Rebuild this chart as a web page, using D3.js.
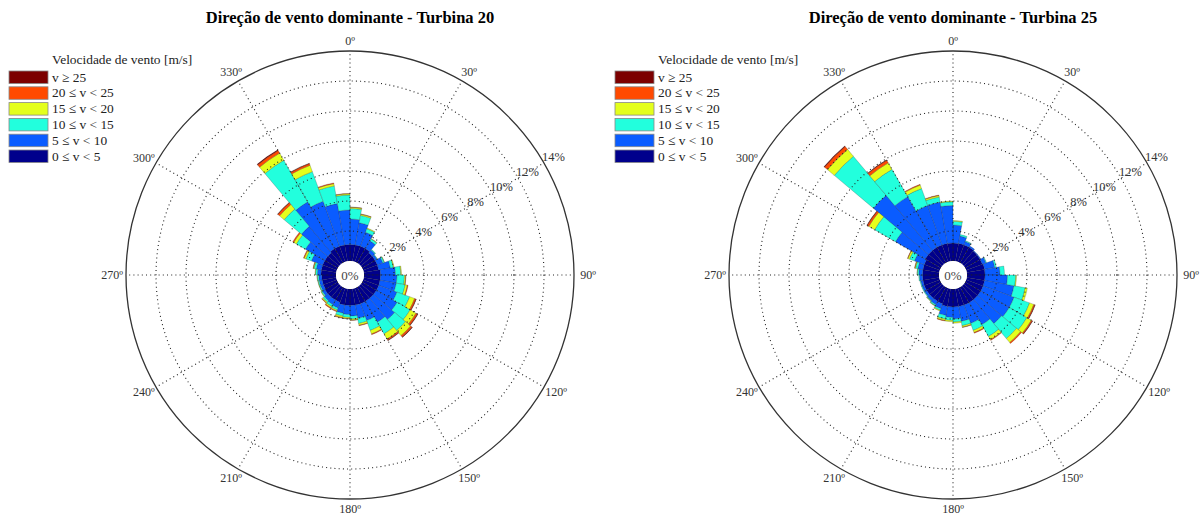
<!DOCTYPE html>
<html>
<head>
<meta charset="utf-8">
<script src="https://cdn.jsdelivr.net/npm/d3@7"></script>
<style>
  body { margin: 0; background: #fff; }
  svg { display: block; }
  text { font-family: "Liberation Serif", "Times New Roman", serif; }
</style>
</head>
<body>
<svg id="chart" width="1202" height="517"></svg>
<script>
// Direction bins: 10° wide, centred at 5°, 15°, ..., 355°
const directions = d3.range(5, 360, 10);

// Speed classes (m/s), from calm to strong
const speedLabels = ["0 \u2264 v < 5", "5 \u2264 v < 10", "10 \u2264 v < 15",
                     "15 \u2264 v < 20", "20 \u2264 v < 25", "v \u2265 25"];
const speedColors = ["#00008c", "#0a5cff", "#22ffdd", "#e4ff1c", "#ff4a00", "#7c0000"];

// Frequency (%) per direction bin for each speed class — Turbina 20
const t20_0_5   = [1.1,1.1,1.1,1.1,1.0,1.0,1.0,1.0,1.1,1.1,1.1,1.1,1.1,1.1,1.1,1.1,1.1,1.1,1.1,1.1,1.0,1.0,1.0,1.0,0.95,0.95,0.95,1.0,1.0,1.0,1.0,1.0,1.1,1.1,1.1,1.1];
const t20_5_10  = [1.7,1.5,1.0,0.6,0.25,0.15,0.4,0.8,1.0,1.1,1.1,1.3,1.6,1.85,1.6,1.2,0.9,0.7,0.6,0.55,0.4,0.35,0.3,0.2,0.2,0.2,0.2,0.25,0.35,0.8,1.5,2.3,3.6,3.2,2.8,2.3];
const t20_10_15 = [0.7,0.5,0.25,0.15,0.05,0.03,0.1,0.2,0.35,0.5,0.6,0.9,1.0,0.95,0.9,0.7,0.35,0.2,0.2,0.2,0.15,0.15,0.12,0.08,0.08,0.08,0.1,0.12,0.15,0.4,0.7,1.5,3.2,2.1,1.2,1.0];
const t20_15_20 = [0.08,0.08,0.05,0.03,0,0,0.02,0.05,0.05,0.08,0.15,0.35,0.45,0.45,0.4,0.25,0.12,0.08,0.08,0.1,0.08,0.1,0.08,0.03,0.02,0.02,0.02,0.03,0.05,0.12,0.2,0.4,0.55,0.45,0.15,0.08];
const t20_20_25 = [0.02,0.02,0,0,0,0,0,0,0,0.02,0.05,0.1,0.12,0.12,0.1,0.05,0.03,0.02,0.02,0.05,0.04,0.05,0.03,0,0,0,0,0,0.02,0.05,0.08,0.15,0.2,0.12,0.05,0.02];
const t20_25up  = [0,0,0,0,0,0,0,0,0,0,0,0.02,0.03,0.03,0.02,0,0,0,0,0,0,0,0,0,0,0,0,0,0,0,0,0.03,0.05,0.03,0,0];

// Frequency (%) per direction bin for each speed class — Turbina 25
const t25_0_5   = [1.2,1.2,1.2,1.2,1.15,1.15,1.15,1.2,1.2,1.2,1.2,1.2,1.2,1.2,1.2,1.2,1.2,1.2,1.2,1.2,1.1,1.1,1.1,1.1,1.1,1.1,1.1,1.1,1.1,1.1,1.2,1.2,1.2,1.2,1.2,1.2];
const t25_5_10  = [1.2,0.5,0.25,0.1,0.05,0.05,0.25,0.7,1.0,1.5,2.0,2.2,2.2,2.1,1.7,1.3,1.0,0.8,0.7,0.6,0.35,0.25,0.2,0.15,0.15,0.15,0.2,0.25,0.35,0.7,2.3,4.8,3.9,2.8,2.8,2.5];
const t25_10_15 = [0.25,0.1,0.05,0,0,0,0.05,0.1,0.3,0.55,0.75,1.1,1.35,1.3,0.9,0.5,0.3,0.2,0.2,0.25,0.12,0.08,0.05,0.05,0.05,0.05,0.05,0.1,0.15,0.35,1.6,3.4,2.1,1.2,0.35,0.25];
const t25_15_20 = [0.05,0,0,0,0,0,0,0,0,0.05,0.15,0.3,0.35,0.35,0.25,0.15,0.1,0.08,0.08,0.1,0.05,0.03,0.02,0,0,0,0,0.02,0.05,0.12,0.45,0.6,0.5,0.25,0.1,0.05];
const t25_20_25 = [0,0,0,0,0,0,0,0,0,0,0,0.08,0.08,0.08,0.05,0.05,0.02,0,0,0.03,0,0,0,0,0,0,0,0,0.02,0.03,0.12,0.25,0.2,0.05,0.03,0];
const t25_25up  = [0,0,0,0,0,0,0,0,0,0,0,0.02,0.02,0,0,0,0,0,0,0,0,0,0,0,0,0,0,0,0,0,0.03,0.05,0.03,0,0,0];

// Axis ticks
const radialTicks = [2, 4, 6, 8, 10, 12, 14];
const angleTicks = d3.range(0, 360, 30);
const angleLabelTicks = [0, 30, 90, 120, 150, 180, 210, 240, 270, 300, 330];

const roses = [
  { title: "Dire\u00e7\u00e3o de vento dominante - Turbina 20", cx: 350, cy: 275, legendX: 9,
    classes: [t20_0_5, t20_5_10, t20_10_15, t20_15_20, t20_20_25, t20_25up] },
  { title: "Dire\u00e7\u00e3o de vento dominante - Turbina 25", cx: 953, cy: 275, legendX: 615,
    classes: [t25_0_5, t25_5_10, t25_10_15, t25_15_20, t25_20_25, t25_25up] }
];

const svg = d3.select("#chart");
const holeR = 14, outerR = 224;
const rScale = d3.scaleLinear().domain([0, 14]).range([holeR, outerR]);
const toRad = d => d * Math.PI / 180;
const binHalf = 5;

roses.forEach(rose => {
  const g = svg.append("g").attr("transform", `translate(${rose.cx},${rose.cy})`);

  // Stack the classes per direction into cumulative bands
  const rows = directions.map((dir, i) => {
    const o = { dir };
    rose.classes.forEach((arr, k) => { o["c" + k] = arr[i]; });
    return o;
  });
  const stack = d3.stack().keys(rose.classes.map((_, k) => "c" + k))(rows);

  const arc = d3.arc()
    .innerRadius(d => rScale(d[0]))
    .outerRadius(d => rScale(d[1]))
    .startAngle(d => toRad(d.data.dir - binHalf))
    .endAngle(d => toRad(d.data.dir + binHalf));

  stack.forEach((layer, k) => {
    g.append("g").selectAll("path")
      .data(layer.filter(d => d[1] - d[0] > 0))
      .join("path")
      .attr("d", arc)
      .attr("fill", speedColors[k])
      .attr("stroke", "#1a1a1a")
      .attr("stroke-opacity", 0.55)
      .attr("stroke-width", 0.4);
  });

  // White calm hole
  g.append("circle").attr("r", holeR).attr("fill", "#fff");

  // Dotted grid circles
  g.append("g").selectAll("circle")
    .data(radialTicks.slice(0, -1))
    .join("circle")
    .attr("r", d => rScale(d))
    .attr("fill", "none")
    .attr("stroke", "#222")
    .attr("stroke-width", 1.1)
    .attr("stroke-dasharray", "1,3.2");

  // Dotted spokes
  g.append("g").selectAll("line")
    .data(angleTicks)
    .join("line")
    .attr("x1", d => holeR * Math.sin(toRad(d)))
    .attr("y1", d => -holeR * Math.cos(toRad(d)))
    .attr("x2", d => outerR * Math.sin(toRad(d)))
    .attr("y2", d => -outerR * Math.cos(toRad(d)))
    .attr("stroke", "#222")
    .attr("stroke-width", 1.1)
    .attr("stroke-dasharray", "1,3.2");

  // Outer ring
  g.append("circle").attr("r", outerR).attr("fill", "none")
    .attr("stroke", "#333").attr("stroke-width", 1.3);

  // Direction labels (wider horizontal offset so side labels clear the ring)
  const labRx = 238, labRy = 234;
  g.append("g").selectAll("text")
    .data(angleLabelTicks)
    .join("text")
    .attr("x", d => labRx * Math.sin(toRad(d)))
    .attr("y", d => -labRy * Math.cos(toRad(d)))
    .attr("text-anchor", "middle")
    .attr("dominant-baseline", "central")
    .attr("font-size", 12)
    .attr("fill", "#333")
    .text(d => d + "\u00ba");

  // Percentage labels along 60°
  const pctAng = toRad(60);
  g.append("g").selectAll("text")
    .data(radialTicks)
    .join("text")
    .attr("x", d => (rScale(d) + 11) * Math.sin(pctAng))
    .attr("y", d => -(rScale(d) + 12) * Math.cos(pctAng))
    .attr("text-anchor", "middle")
    .attr("dominant-baseline", "central")
    .attr("font-size", 12.5)
    .attr("fill", "#333")
    .text(d => d + "%");

  g.append("text")
    .attr("text-anchor", "middle")
    .attr("dominant-baseline", "central")
    .attr("font-size", 13)
    .attr("fill", "#444")
    .text("0%");

  // Title
  svg.append("text")
    .attr("x", rose.cx).attr("y", 23)
    .attr("text-anchor", "middle")
    .attr("font-size", 16.5)
    .attr("font-weight", "bold")
    .attr("fill", "#000")
    .text(rose.title);

  // Legend (strongest class on top)
  const lg = svg.append("g").attr("transform", `translate(${rose.legendX},0)`);
  lg.append("text").attr("x", 43).attr("y", 64)
    .attr("font-size", 13.4).attr("fill", "#222")
    .text("Velocidade de vento [m/s]");
  const order = d3.range(speedLabels.length).reverse();
  order.forEach((k, i) => {
    const y = 71 + i * 15.8;
    lg.append("rect").attr("x", 0).attr("y", y).attr("width", 39).attr("height", 12.5)
      .attr("fill", speedColors[k]).attr("stroke", "#888").attr("stroke-width", 0.8);
    lg.append("text").attr("x", 43).attr("y", y + 10.5)
      .attr("font-size", 13.4).attr("fill", "#222")
      .text(speedLabels[k]);
  });
});
</script>
</body>
</html>
